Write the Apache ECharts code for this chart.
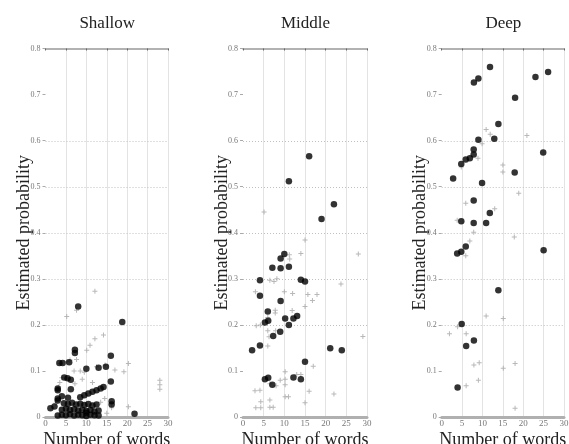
<!DOCTYPE html>
<html>
<head>
<meta charset="utf-8">
<script src="https://cdn.jsdelivr.net/npm/echarts@6/dist/echarts.min.js"></script>
<style>
html,body{margin:0;padding:0;background:#fff;}
#chart{width:569px;height:444px;}
</style>
</head>
<body>
<div id="chart"></div>
<script>
// ---- data ----
var panelTitles = ['Shallow', 'Middle', 'Deep'];
var xTicks = [0, 5, 10, 15, 20, 25, 30];
var yTicks = [0, 0.1, 0.2, 0.3, 0.4, 0.5, 0.6, 0.7, 0.8];
var hLines = [0.2, 0.3, 0.4, 0.5, 0.6];

var shallowBlack = [
  [8,0.24],[18.8,0.206],[16,0.133],[10,0.105],[7.2,0.146],[7.2,0.139],[3.4,0.117],[4.2,0.117],[5.8,0.119],
  [4.6,0.086],[5.4,0.084],[6.2,0.081],[6.2,0.06],[14.8,0.109],[13,0.107],[16,0.077],
  [8.5,0.043],[9.5,0.047],[10.5,0.051],[11.5,0.055],[12.5,0.058],[13.5,0.062],[14.2,0.065],
  [3,0.062],[3,0.058],[3,0.04],[3,0.036],[1.2,0.019],[2.2,0.023],[21.8,0.007],[16.2,0.034],[16.2,0.027],
  [4.5,0.03],[5.5,0.028],[6.5,0.031],[7.5,0.027],[8.5,0.029],[9.5,0.026],[10.5,0.028],[11.5,0.025],[12.5,0.027],
  [4,0.016],[5,0.018],[6,0.015],[7,0.017],[8,0.014],[9,0.016],[10,0.013],[11,0.015],[12,0.012],[13,0.014],
  [3,0.003],[4,0.005],[5,0.004],[6,0.006],[7,0.003],[8,0.005],[9,0.004],[10,0.002],[11,0.005],[12,0.004],[13,0.003],
  [4,0.045],[5.5,0.042],[10,0.009]
];
var shallowGray = [
  [12.1,0.273],[7.6,0.232],[5.2,0.218],[14.2,0.178],[12.1,0.17],[10.9,0.156],[10.1,0.145],[7.6,0.125],
  [6,0.124],[5.2,0.12],[3.6,0.116],[20.3,0.116],[19.2,0.098],[17,0.102],[12.5,0.109],[14.6,0.113],
  [8.5,0.1],[9.5,0.097],[7,0.1],[4,0.085],[3.5,0.075],[28,0.08],[28,0.07],[28,0.06],[20.3,0.022],
  [14.5,0.04],[16.2,0.02],[7.2,0.072],[9,0.082],[11.5,0.075],[3.2,0.065],[2.5,0.03],[13.5,0.032],[15,0.008]
];

var middleBlack = [
  [16,0.566],[11.1,0.512],[22,0.462],[19,0.43],[10,0.354],[9.1,0.344],[11.1,0.326],[7.1,0.324],[9.1,0.323],
  [4.1,0.297],[14,0.298],[15,0.294],[4.1,0.263],[9.1,0.252],[6,0.229],[10.2,0.214],[12.2,0.214],[13.1,0.219],
  [11.1,0.2],[5.3,0.205],[6.1,0.209],[7.3,0.176],[9,0.185],[4.1,0.155],[2.2,0.145],[21.1,0.149],[23.9,0.145],
  [15,0.12],[5.3,0.082],[6.1,0.085],[7.1,0.07],[12.2,0.086],[14,0.082]
];
var middleGray = [
  [5.1,0.445],[15,0.384],[14,0.355],[27.9,0.354],[11.2,0.352],[11.3,0.343],[6.5,0.297],[7.5,0.294],[8.2,0.3],
  [23.7,0.289],[3,0.272],[10,0.272],[12,0.268],[15.7,0.266],[17.9,0.266],[16.8,0.253],[7.8,0.232],[7.8,0.226],
  [11.9,0.231],[15,0.24],[6,0.216],[3.2,0.198],[4.2,0.2],[6,0.187],[7.9,0.187],[6,0.154],[29,0.175],[17,0.11],
  [10.2,0.098],[10.2,0.082],[9,0.08],[10.2,0.07],[8,0.068],[6.5,0.072],[2.9,0.057],[4.1,0.058],[4.3,0.033],
  [3.1,0.02],[4.3,0.02],[6.5,0.037],[6.5,0.021],[7.3,0.021],[10.2,0.044],[11,0.044],[15,0.031],[16,0.056],
  [22,0.05],[13,0.092],[14,0.092],[6.3,0.174]
];

var deepBlack = [
  [11.85,0.76],[7.9,0.726],[9,0.735],[26.1,0.749],[23,0.738],[18,0.693],[13.9,0.636],[9,0.602],[12.9,0.604],
  [7.85,0.581],[7.85,0.57],[6.9,0.562],[5.9,0.559],[4.8,0.549],[24.9,0.574],[2.8,0.518],[9.9,0.508],[17.9,0.531],
  [7.85,0.47],[11.8,0.443],[10.9,0.421],[4.8,0.425],[7.85,0.421],[5.9,0.37],[4.8,0.359],[3.8,0.355],[25,0.362],
  [13.9,0.275],[4.9,0.202],[7.9,0.166],[6,0.154],[3.9,0.064]
];
var deepGray = [
  [10.9,0.624],[11.9,0.614],[9.9,0.593],[20.9,0.611],[8.9,0.562],[4.8,0.543],[15,0.547],[15,0.532],[18.9,0.486],
  [5.9,0.464],[13,0.452],[3.8,0.427],[7.85,0.401],[17.8,0.391],[6.9,0.382],[5.9,0.35],[3.9,0.196],[1.9,0.181],
  [6,0.181],[10.9,0.219],[15.1,0.214],[7.9,0.113],[9.2,0.118],[18,0.116],[15.1,0.106],[9,0.08],[6,0.068],[18,0.019]
];

var blackSets = [shallowBlack, middleBlack, deepBlack];
var graySets = [shallowGray, middleGray, deepGray];

// ---- layout ----
var SERIF = '"Liberation Serif", "DejaVu Serif", serif';
var gridLefts = [45.5, 243, 441.7];
var gridWidths = [122.5, 124, 122.3];
var gridTop = 48.5, gridHeight = 368.5;
var plusPath = 'path://M2,0H3V2H5V3H3V5H2V3H0V2H2Z';
var X_MIN = xTicks[0], X_MAX = xTicks[xTicks.length - 1];

var chart = echarts.init(document.getElementById('chart'), null, {renderer: 'canvas'});

function hLineRender(params, api) {
  var v = api.value(0);
  var p1 = api.coord([X_MIN, v]);
  var p2 = api.coord([X_MAX, v]);
  return {
    type: 'line',
    shape: {x1: p1[0], y1: Math.round(p1[1]) + 0.5, x2: p2[0], y2: Math.round(p2[1]) + 0.5},
    style: {stroke: '#c0c0c0', lineWidth: 1, lineDash: [1, 2]},
    silent: true
  };
}

var grids = [], xAxes = [], yAxes = [], series = [], graphics = [];
for (var i = 0; i < 3; i++) {
  grids.push({left: gridLefts[i], top: gridTop, width: gridWidths[i], height: gridHeight,
    containLabel: false, outerBoundsMode: 'none'});
  xAxes.push({
    gridIndex: i, type: 'value', min: X_MIN, max: X_MAX, interval: 5,
    position: 'bottom',
    axisLine: {show: true, onZero: false, lineStyle: {color: '#b0b0b0', width: 3}},
    axisTick: {show: false},
    axisLabel: {fontFamily: SERIF, fontSize: 9, color: '#777', margin: 2},
    splitLine: {show: true, showMinLine: false, lineStyle: {type: 'dotted', color: '#c8c8c8', width: 1}},
    name: 'Number of words', nameLocation: 'middle', nameGap: 14, nameMoveOverlap: false,
    nameTextStyle: {fontFamily: SERIF, fontSize: 18, color: '#222', verticalAlign: 'top'}
  });
  xAxes.push({
    gridIndex: i, type: 'value', min: X_MIN, max: X_MAX, interval: 5,
    position: 'top',
    axisLine: {show: true, onZero: false, lineStyle: {color: '#999', width: 1.5}},
    axisTick: {show: true, inside: true, length: 2, lineStyle: {color: '#666'}},
    axisLabel: {show: false},
    splitLine: {show: false}
  });
  yAxes.push({
    gridIndex: i, type: 'value', min: yTicks[0], max: yTicks[yTicks.length - 1], interval: 0.1,
    axisLine: {show: false},
    axisTick: {show: true, length: 3, lineStyle: {color: '#aaa'}},
    axisLabel: {fontFamily: SERIF, fontSize: 8, color: '#777', margin: 5,
      formatter: function (v) { return v === 0 ? '0' : v.toFixed(1); }},
    splitLine: {show: false},
    name: 'Estimated probability', nameLocation: 'middle', nameGap: 12, nameRotate: 90,
    nameMoveOverlap: false,
    nameTextStyle: {fontFamily: SERIF, fontSize: 18, color: '#222'}
  });
  series.push({
    type: 'custom', xAxisIndex: i * 2, yAxisIndex: i, z: 1, silent: true,
    data: hLines.map(function (v) { return [v]; }),
    encode: {y: 0},
    renderItem: hLineRender
  });
  series.push({
    type: 'scatter', xAxisIndex: i * 2, yAxisIndex: i, z: 2,
    data: graySets[i], symbol: plusPath, symbolSize: 5,
    itemStyle: {color: '#a6a6a6'}, silent: true
  });
  series.push({
    type: 'scatter', xAxisIndex: i * 2, yAxisIndex: i, z: 3,
    data: blackSets[i], symbol: 'circle', symbolSize: 6.5,
    itemStyle: {color: '#000'}, silent: true
  });
  graphics.push({
    type: 'text', x: gridLefts[i] + gridWidths[i] / 2 + 0.5, y: 24,
    style: {text: panelTitles[i], font: '17px ' + SERIF, fill: '#222', textAlign: 'center', textVerticalAlign: 'middle'}
  });
}

chart.setOption({
  animation: false,
  backgroundColor: '#fff',
  grid: grids,
  xAxis: xAxes,
  yAxis: yAxes,
  series: series,
  graphic: graphics
});
</script>
</body>
</html>
